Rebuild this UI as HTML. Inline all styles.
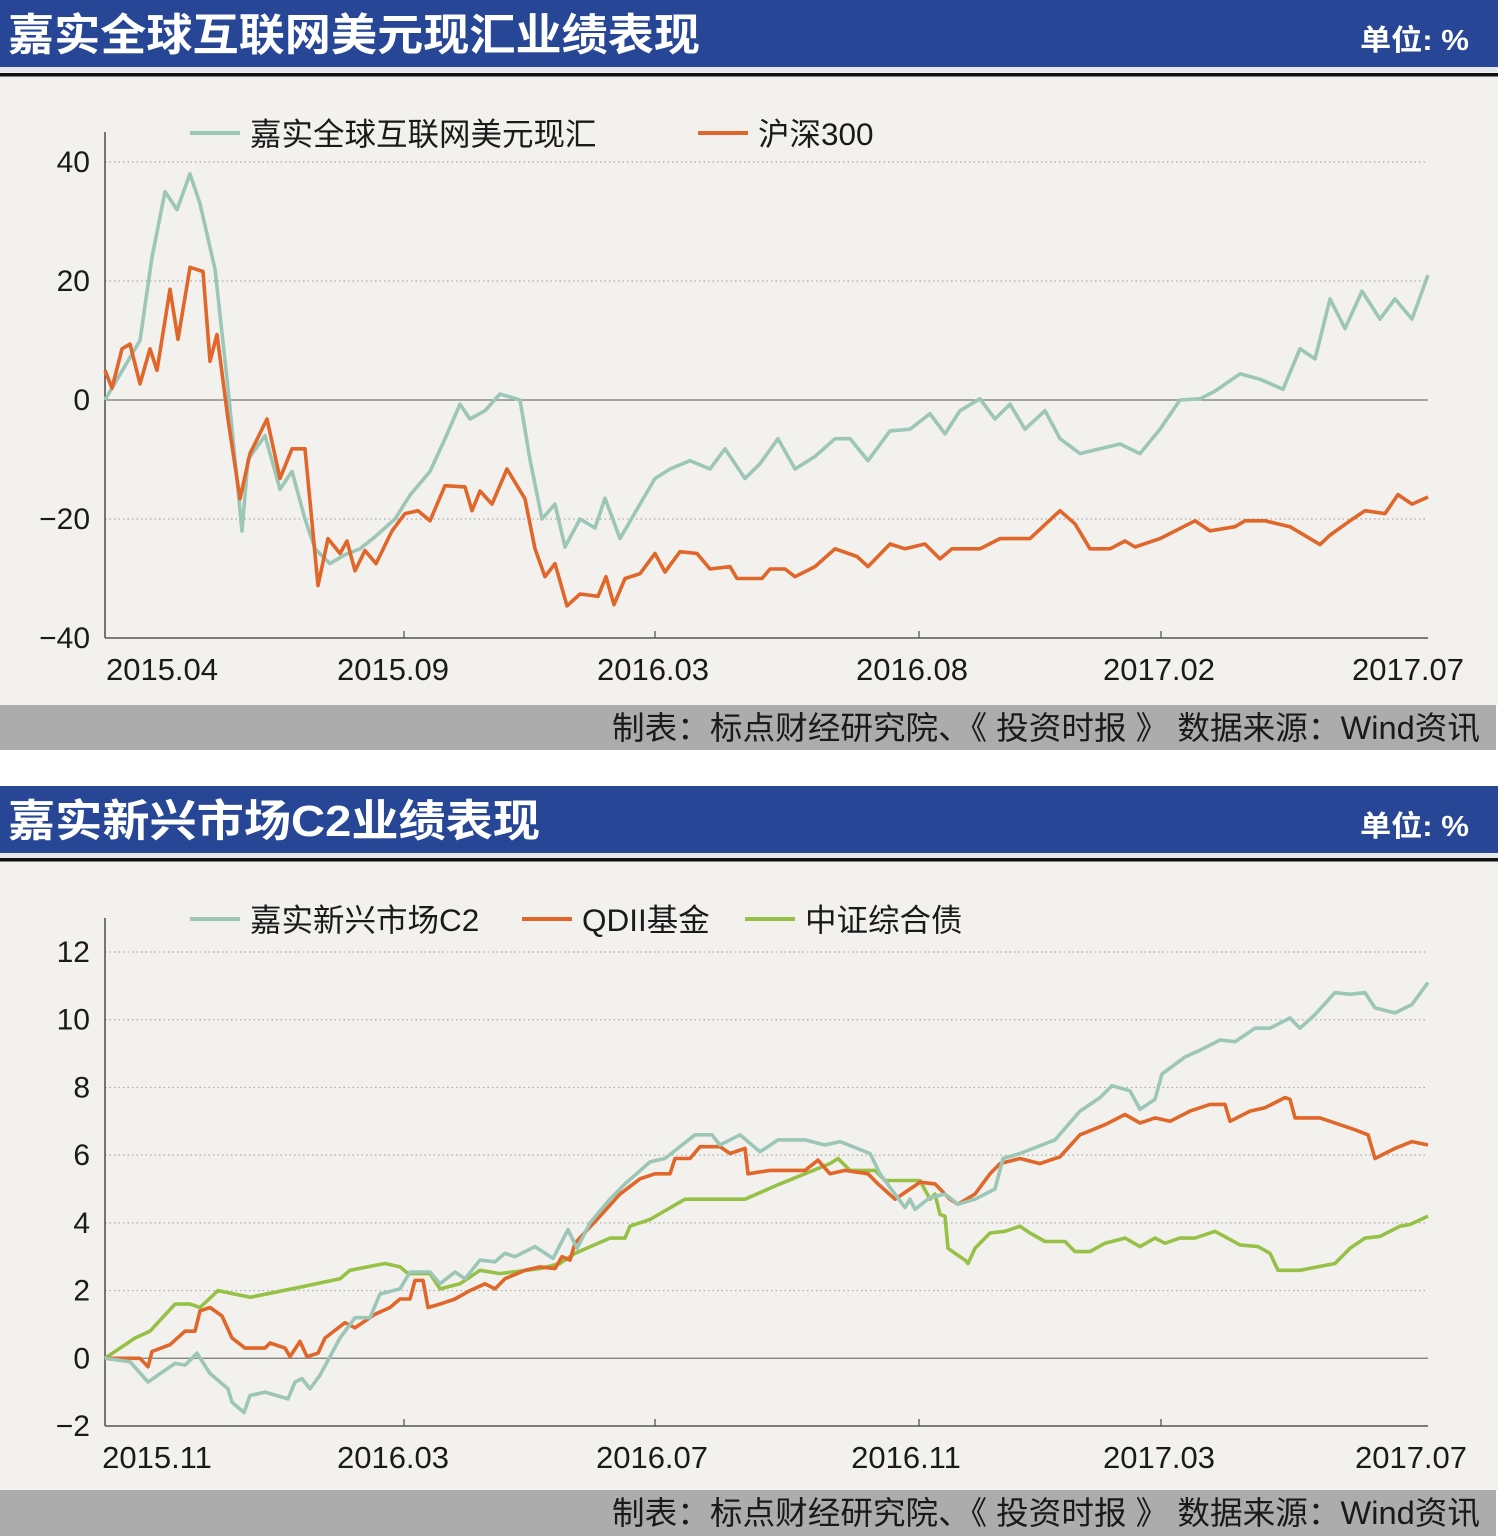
<!DOCTYPE html>
<html><head><meta charset="utf-8">
<style>
html,body{margin:0;padding:0;background:#fff;}
svg{display:block;font-family:"Liberation Sans","Noto Sans CJK SC",sans-serif;}
</style></head>
<body>
<svg id="page" width="1498" height="1536" viewBox="0 0 1498 1536" xmlns="http://www.w3.org/2000/svg">
  <g>
    <rect x="0" y="0" width="1498" height="705" fill="#f2f1ed"/>
    <rect x="0" y="0" width="1498" height="67" fill="#274796"/>
    <rect x="0" y="67" width="1498" height="5" fill="#e8e8ee"/>
    <rect x="0" y="73" width="1498" height="3.5" fill="#111"/>
    <text x="8" y="50" font-size="44" font-weight="bold" fill="#fff" textLength="692" lengthAdjust="spacingAndGlyphs">嘉实全球互联网美元现汇业绩表现</text>
    <text x="1360" y="50" font-size="29" font-weight="bold" fill="#fff" textLength="109" lengthAdjust="spacingAndGlyphs">单位: %</text>
    <rect x="0" y="705" width="1496" height="45" fill="#acacac"/>
    <text x="612" y="739" font-size="32" fill="#1a1a1a" textLength="868" lengthAdjust="spacingAndGlyphs">制表：标点财经研究院、《 投资时报 》  数据来源：Wind资讯</text>
  </g>
  <g>
    <rect x="0" y="786" width="1498" height="704" fill="#f2f1ed"/>
    <rect x="0" y="786" width="1498" height="67" fill="#274796"/>
    <rect x="0" y="853" width="1498" height="5" fill="#e8e8ee"/>
    <rect x="0" y="858" width="1498" height="3.5" fill="#111"/>
    <text x="8" y="836" font-size="44" font-weight="bold" fill="#fff" textLength="532" lengthAdjust="spacingAndGlyphs">嘉实新兴市场C2业绩表现</text>
    <text x="1360" y="836" font-size="29" font-weight="bold" fill="#fff" textLength="109" lengthAdjust="spacingAndGlyphs">单位: %</text>
    <rect x="0" y="1490" width="1496" height="46" fill="#acacac"/>
    <text x="612" y="1524" font-size="32" fill="#1a1a1a" textLength="868" lengthAdjust="spacingAndGlyphs">制表：标点财经研究院、《 投资时报 》  数据来源：Wind资讯</text>
  </g>
  <g id="c1"></g>
  <g id="c2"></g>
</svg>
<script>
// ===== Chart 1 data (day index along timeline, values in %) =====
const days1Fund = [0,35,47,60,72,85,95,110,123,137,143,160,175,187,200,210,225,240,255,270,290,305,325,340,355,365,380,395,415,425,437,450,460,475,490,500,515,535,550,565,585,605,620,640,655,673,690,710,730,745,763,785,805,825,840,855,875,890,905,920,940,955,975,995,1015,1035,1055,1075,1095,1110,1135,1155,1178,1195,1210,1225,1240,1257,1275,1290,1307,1323];
const fund1 = [0,10,24,35,32,38,33,22,2,-22,-10,-6,-15,-12,-20,-25,-27.5,-26,-25,-23,-20,-16,-12,-6.5,-0.7,-3.2,-1.8,1,0,-10,-20,-17.5,-24.7,-20,-21.5,-16.5,-23.3,-17.5,-13.2,-11.6,-10.2,-11.6,-8.2,-13.2,-10.7,-6.5,-11.6,-9.5,-6.5,-6.5,-10.2,-5.2,-4.9,-2.3,-5.7,-1.8,0.2,-3.2,-0.7,-4.9,-1.8,-6.5,-9,-8.2,-7.4,-9,-4.9,0,0.2,1.5,4.4,3.5,1.8,8.6,6.9,17,12,18.3,13.6,17,13.6,21];
const days1Hs = [0,7,17,25,35,45,52,65,73,85,98,105,112,123,135,145,162,175,187,200,213,223,235,242,250,260,271,287,300,313,325,340,360,367,375,387,402,420,430,440,450,462,475,493,501,509,520,535,550,560,575,592,605,625,632,657,665,680,690,710,730,752,763,785,800,820,835,847,875,895,925,955,970,985,1005,1020,1030,1055,1090,1105,1130,1140,1160,1185,1215,1225,1245,1260,1280,1293,1307,1323];
const hs300 = [5,2,8.6,9.4,2.7,8.6,5,18.6,10.2,22.3,21.6,6.5,11,-3.2,-16.6,-9,-3.2,-13.2,-8.2,-8.2,-31.2,-23.3,-25.8,-23.7,-28.7,-25.3,-27.5,-22,-19.1,-18.6,-20.3,-14.4,-14.6,-18.6,-15.3,-17.5,-11.6,-16.6,-25,-29.7,-27.5,-34.6,-32.6,-33,-29.7,-34.4,-30,-29.2,-25.8,-28.9,-25.5,-25.8,-28.4,-28,-30,-30,-28.4,-28.4,-29.7,-28,-25,-26.3,-28,-24.2,-25,-24.2,-26.7,-25,-25,-23.3,-23.3,-18.6,-20.8,-25,-25,-23.7,-24.7,-23.3,-20.3,-22,-21.3,-20.3,-20.3,-21.3,-24.3,-22.7,-20.3,-18.6,-19.1,-15.9,-17.5,-16.3];
const yTicks1 = [40,20,0,-20,-40];
const xTickLabels1 = ["2015.04","2015.09","2016.03","2016.08","2017.02","2017.07"];
const xTickDays1 = [57,288,548,807,1054,1303];

// ===== Chart 2 data =====
const days2Fund = [0,25,43,70,80,92,105,123,127,139,145,160,183,190,197,205,215,235,250,265,275,295,305,325,335,350,360,375,390,400,410,430,448,463,472,485,505,520,545,560,575,590,607,615,635,655,673,700,720,735,765,775,790,800,805,810,825,840,853,870,890,898,915,950,975,995,1007,1025,1035,1050,1057,1080,1095,1115,1130,1150,1165,1185,1195,1210,1230,1245,1260,1270,1290,1307,1323];
const fundC2 = [0,-0.1,-0.7,-0.15,-0.2,0.15,-0.45,-0.9,-1.3,-1.6,-1.1,-1.0,-1.2,-0.7,-0.6,-0.9,-0.5,0.6,1.2,1.2,1.9,2.05,2.55,2.55,2.2,2.55,2.35,2.9,2.85,3.1,3.0,3.3,2.95,3.8,3.25,4.0,4.7,5.15,5.8,5.9,6.25,6.6,6.6,6.3,6.6,6.1,6.45,6.45,6.3,6.4,6.05,5.45,4.85,4.45,4.7,4.4,4.75,4.85,4.55,4.7,5.0,5.9,6.05,6.45,7.3,7.7,8.05,7.9,7.35,7.65,8.4,8.9,9.1,9.4,9.35,9.75,9.75,10.05,9.75,10.15,10.8,10.75,10.8,10.35,10.2,10.45,11.1];
const days2Qdii = [0,35,43,47,65,80,90,95,105,117,127,140,160,165,180,185,195,202,213,220,240,250,270,285,295,305,310,318,323,335,350,365,380,390,400,420,435,450,457,465,470,495,515,535,550,565,570,585,595,615,625,640,643,665,700,713,725,740,763,773,790,815,830,845,853,870,885,895,915,935,955,975,1000,1020,1035,1050,1065,1085,1105,1120,1125,1145,1160,1180,1185,1190,1215,1235,1250,1263,1270,1290,1307,1323];
const qdii = [0,0,-0.25,0.2,0.4,0.8,0.8,1.4,1.5,1.25,0.6,0.3,0.3,0.45,0.3,0.05,0.5,0.05,0.15,0.6,1.05,0.9,1.3,1.5,1.75,1.75,2.3,2.3,1.5,1.6,1.75,2.0,2.2,2.05,2.35,2.6,2.7,2.65,3.0,2.9,3.4,4.2,4.85,5.3,5.45,5.45,5.9,5.9,6.25,6.25,6.05,6.2,5.45,5.55,5.55,5.85,5.45,5.55,5.45,5.15,4.7,5.2,5.15,4.7,4.55,4.85,5.45,5.75,5.9,5.75,5.95,6.6,6.9,7.2,6.95,7.1,7.0,7.3,7.5,7.5,7.0,7.3,7.4,7.7,7.65,7.1,7.1,6.9,6.75,6.6,5.9,6.2,6.4,6.3];
const days2Bond = [0,30,45,70,85,95,113,145,195,235,245,280,295,303,325,335,355,375,395,435,455,470,505,520,525,545,580,640,675,725,733,745,770,780,815,825,830,835,840,843,850,860,863,870,885,900,915,925,940,960,970,985,1000,1020,1035,1050,1060,1075,1090,1110,1135,1153,1165,1173,1195,1230,1245,1260,1275,1295,1305,1323];
const bond = [0,0.6,0.8,1.6,1.6,1.5,2.0,1.8,2.1,2.35,2.6,2.8,2.7,2.5,2.5,2.05,2.2,2.6,2.5,2.65,2.8,3.1,3.55,3.55,3.9,4.1,4.7,4.7,5.15,5.75,5.9,5.55,5.55,5.25,5.25,4.7,4.85,4.25,4.2,3.25,3.1,2.9,2.8,3.25,3.7,3.75,3.9,3.7,3.45,3.45,3.15,3.15,3.4,3.55,3.3,3.55,3.4,3.55,3.55,3.75,3.35,3.3,3.1,2.6,2.6,2.8,3.25,3.55,3.6,3.9,3.95,4.2];
const yTicks2 = [12,10,8,6,4,2,0,-2];
const xTickLabels2 = ["2015.11","2016.03","2016.07","2016.11","2017.03","2017.07"];
const xTickDays2 = [52,288,547,801,1054,1306];

const NS = "http://www.w3.org/2000/svg";
function mk(tag, attrs, parent){
  const e = document.createElementNS(NS, tag);
  for (const k in attrs) e.setAttribute(k, attrs[k]);
  parent.appendChild(e);
  return e;
}
const X0 = 105, X1 = 1428, DMAX = 1323;
function xScale(d){ return X0 + (d / DMAX) * (X1 - X0); }

function drawChart(g, cfg){
  const yS = v => cfg.y0 + (cfg.vMax - v) / (cfg.vMax - cfg.vMin) * (cfg.yBottom - cfg.y0);
  cfg.yTicks.forEach(v => {
    const y = yS(v);
    if (v === cfg.vMin) return;
    const gl = mk("line", {x1:X0, x2:X1, y1:y, y2:y, stroke: v===0 ? "#777" : "#aaa", "stroke-width": 1.2, "stroke-dasharray": v===0 ? "" : "1.5 3"}, g);
    
    
  });
  cfg.yTicks.forEach(v => {
    const t = mk("text", {x: 90, y: yS(v) + 10, "font-size": 30, fill: "#1a1a1a", "text-anchor": "end"}, g);
    t.textContent = v < 0 ? "−" + Math.abs(v) : String(v);
    
    
  });
  const ya = mk("line", {x1:X0, x2:X0, y1:cfg.axisTop, y2:cfg.yBottom, stroke:"#333", "stroke-width":1.3}, g);
  
  
  const xa = mk("line", {x1:X0, x2:X1, y1:cfg.yBottom, y2:cfg.yBottom, stroke:"#555", "stroke-width":1.5}, g);
  
  
  cfg.tickPx.forEach(px => {
    const tk = mk("line", {x1:px, x2:px, y1:cfg.yBottom-7, y2:cfg.yBottom, stroke:"#555", "stroke-width":1.3}, g);
    
    
  });
  cfg.xTickDays.forEach((d, i) => {
    const t = mk("text", {x: xScale(d), y: cfg.yBottom + 42, "font-size": 31, fill: "#1a1a1a", "text-anchor": "middle"}, g);
    t.textContent = cfg.xTickLabels[i];
    
    
  });
  cfg.series.forEach(s => {
    const d = s.days.map((dd, i) => (i ? "L" : "M") + xScale(dd).toFixed(1) + "," + yS(s.vals[i]).toFixed(1)).join(" ");
    const p = mk("path", {d: d, fill: "none", stroke: s.color, "stroke-width": 3.6, "stroke-linejoin": "round"}, g);
    
    
  });
  cfg.series.forEach(s => {
    const l = mk("line", {x1:s.lx, x2:s.lx+50, y1:cfg.legY, y2:cfg.legY, stroke:s.color, "stroke-width":4}, g);
    
    
    const t = mk("text", {x:s.lx+60, y:cfg.legY+12, "font-size":31.5, fill:"#1a1a1a"}, g);
    t.textContent = s.label;
    
    
  });
}

drawChart(document.getElementById("c1"), {
  y0: 162, yBottom: 638, vMax: 40, vMin: -40, axisTop: 132, legY: 133,
  yTicks: yTicks1, xTickDays: xTickDays1, xTickLabels: xTickLabels1, tickPx: [404,655,919,1161],
  series: [
    {name:"fund-internet", label:"嘉实全球互联网美元现汇", color:"#9cc6b8", days:days1Fund, vals:fund1, lx:190},
    {name:"hs300", label:"沪深300", color:"#e0662a", days:days1Hs, vals:hs300, lx:698}
  ]
});
drawChart(document.getElementById("c2"), {
  y0: 952, yBottom: 1426, vMax: 12, vMin: -2, axisTop: 918, legY: 919,
  yTicks: yTicks2, xTickDays: xTickDays2, xTickLabels: xTickLabels2, tickPx: [404,655,919,1161],
  series: [
    {name:"bond-index", label:"中证综合债", color:"#97c146", days:days2Bond, vals:bond, lx:745},
    {name:"qdii", label:"QDII基金", color:"#e0662a", days:days2Qdii, vals:qdii, lx:522},
    {name:"fund-emerging", label:"嘉实新兴市场C2", color:"#9cc6b8", days:days2Fund, vals:fundC2, lx:190}
  ]
});
</script>
</body></html>
